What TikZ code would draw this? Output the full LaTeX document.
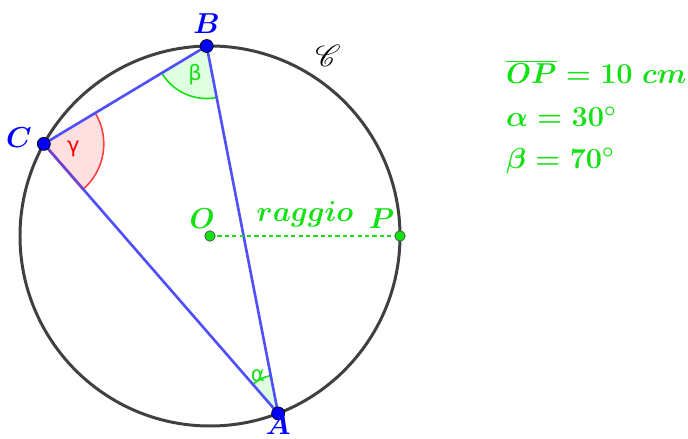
\documentclass[tikz,border=0pt]{standalone}
\usepackage{fontspec}
\usepackage{mathrsfs}
\newfontfamily\greekfont{DejaVu Sans}
\usetikzlibrary{calc,positioning}
\definecolor{ptblue}{RGB}{0,0,255}
\definecolor{segblue}{RGB}{80,80,250}
\definecolor{lblgreen}{RGB}{20,225,20}
\definecolor{circgray}{RGB}{64,64,64}
\tikzset{
  circ/.style={draw=circgray, line width=1.7pt},
  seg/.style={draw=segblue, line width=1.5pt},
  bluept/.style={circle, fill=ptblue, draw=black, line width=0.4pt,
    inner sep=0pt, minimum size=0.26cm},
  greenpt/.style={circle, fill=lblgreen, draw=black!70, line width=0.4pt,
    inner sep=0pt, minimum size=0.21cm},
  ptlabel/.style={text=ptblue, font=\Large\boldmath, scale=1.14},
  glabel/.style={text=lblgreen, font=\Large\boldmath, scale=1.14},
  greek/.style={font=\greekfont\fontsize{12}{14}\selectfont},
  radius line/.style={draw=lblgreen, line width=0.9pt, dash pattern=on 2.4pt off 1.8pt}
}
% sector at vertex #2 from angle #3 to #4, radius #5
\newcommand{\sector}[5]{\path[#1] (#2) -- ++(#3:#5) arc[start angle=#3, end angle=#4, radius=#5] -- cycle;}
\newcommand{\sectorarc}[5]{\draw[#1] ($(#2)+(#3:#5)$) arc[start angle=#3, end angle=#4, radius=#5];}

\begin{document}
\begin{tikzpicture}
  \useasboundingbox (0,0) rectangle (13.76,-8.78);
  \def\rad{3.8}
  \coordinate (O) at (4.2,-4.72);
  \coordinate (pB) at ($(O)+(91:\rad)$);
  \coordinate (pC) at ($(O)+(151:\rad)$);
  \coordinate (pA) at ($(O)+(291:\rad)$);
  \coordinate (pP) at ($(O)+(0:\rad)$);

  % angle sectors
  \sector{fill=red!12}{pC}{-49}{31}{1.2}
  \sector{fill=green!12}{pB}{211}{281}{1.05}
  \sector{fill=green!12}{pA}{101}{131}{0.77}
  \sectorarc{draw=red!75, line width=0.9pt}{pC}{-49}{31}{1.2}
  \sectorarc{draw=lblgreen, line width=0.9pt}{pB}{211}{281}{1.05}
  \sectorarc{draw=lblgreen, line width=0.9pt}{pA}{101}{131}{0.77}
  \node[greek, text=red] (gamma) at ($(pC)+(-9:0.6)$) {γ};
  \node[greek, text=lblgreen] (beta) at ($(pB)+(248:0.62)$) {β};
  \node[greek, text=lblgreen] (alpha) at ($(pA)+(118:0.86)$) {α};

  % circle and triangle
  \draw[circ] (O) circle (\rad);
  \draw[seg] (pA) -- (pB);
  \draw[seg] (pB) -- (pC);
  \draw[seg] (pC) -- (pA);
  \draw[draw=violet!80, line width=1.5pt, opacity=0.5] (pC) -- ($(pC)!1.2cm!(pA)$);
  \draw[radius line] (O) -- node[glabel, above=1pt] (rlab) {$raggio$} (pP);

  % points
  \node[bluept] (A) at (pA) {};
  \node[bluept] (B) at (pB) {};
  \node[bluept] (C) at (pC) {};
  \node[greenpt] (Oc) at (O) {};
  \node[greenpt] (P) at (pP) {};
  \node[ptlabel, above=-1pt of B] (lB) {$B$};
  \node[ptlabel, left=-1pt of C, yshift=3pt] (lC) {$C$};
  \node[ptlabel, below=-7pt of A] (lA) {$A$};
  \node[glabel, above left=-2pt and -9pt of Oc] (lO) {$O$};
  \node[glabel, above left=-2pt and -3pt of P] (lP) {$P$};
  \node[font=\LARGE] (circname) at (6.56,-1.12) {$\mathscr{C}$};

  % data
  \node[glabel, anchor=west] (d1) at (9.98,-1.44) {$\overline{OP}=10\ cm$};
  \node[glabel, anchor=west] (d2) at (9.98,-2.34) {$\alpha=30^\circ$};
  \node[glabel, anchor=west] (d3) at (9.98,-3.22) {$\beta=70^\circ$};
\end{tikzpicture}
\end{document}
